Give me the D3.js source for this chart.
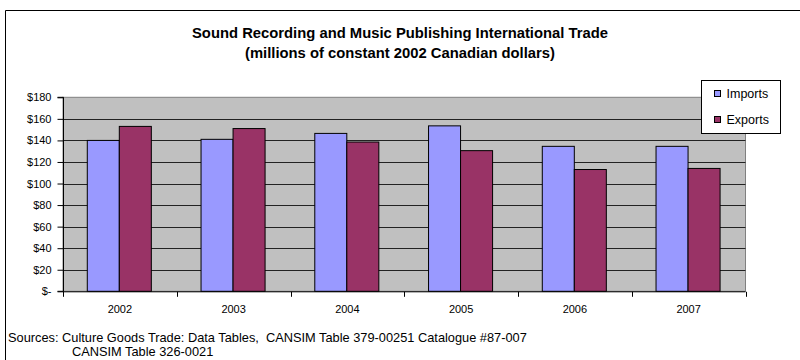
<!DOCTYPE html>
<html>
<head>
<meta charset="utf-8">
<script src="https://cdn.jsdelivr.net/npm/d3@7"></script>
<style>
  html, body { margin: 0; padding: 0; background: #fff; }
  svg { display: block; font-family: "Liberation Sans", Arial, sans-serif; }
  .pre { white-space: pre; }
</style>
</head>
<body>
<svg id="chart" width="800" height="360"></svg>
<script>
// Sound recording & music publishing trade, millions of constant 2002 CAD
const years = ["2002", "2003", "2004", "2005", "2006", "2007"];
const imports = [140, 141, 146.5, 153.5, 134.5, 134.5];
const exports = [153, 151, 138.5, 130.5, 113, 114];
const yTicks = [0, 20, 40, 60, 80, 100, 120, 140, 160, 180];
const seriesNames = ["Imports", "Exports"];
const seriesColors = ["#9999FF", "#993366"];

const svg = d3.select("#chart");

// outer chart frame
svg.append("path")
  .attr("d", "M5.5,365 V10.5 H805")
  .attr("fill", "none").attr("stroke", "#000").attr("stroke-width", 1);

// titles
svg.append("text").attr("x", 400).attr("y", 38).attr("text-anchor", "middle")
  .attr("font-size", 14.8).attr("font-weight", "bold")
  .text("Sound Recording and Music Publishing International Trade");
svg.append("text").attr("x", 400).attr("y", 58).attr("text-anchor", "middle")
  .attr("font-size", 14.8).attr("font-weight", "bold")
  .text("(millions of constant 2002 Canadian dollars)");

const plotL = 63, plotR = 745.5, plotT = 97.3, plotB = 291.3;

const x = d3.scaleBand().domain(years).range([plotL, plotR]).paddingInner(0).paddingOuter(0);
const y = d3.scaleLinear().domain([0, 180]).range([plotB, plotT]);

// plot area background
svg.append("rect").attr("x", plotL).attr("y", plotT)
  .attr("width", plotR - plotL).attr("height", plotB - plotT)
  .attr("fill", "#C0C0C0").attr("stroke", "#808080").attr("stroke-width", 1);

// horizontal gridlines
svg.append("g").selectAll("line").data(yTicks.filter(d => d > 0 && d < 180)).join("line")
  .attr("x1", plotL).attr("x2", plotR)
  .attr("y1", d => Math.round(y(d)) + 0.5).attr("y2", d => Math.round(y(d)) + 0.5)
  .attr("stroke", "#222").attr("stroke-width", 1);

// bars
const bw = x.bandwidth();
const barW = bw * 0.2815;
const offset = bw * 0.2135;
const groups = svg.append("g").selectAll("g").data(years).join("g")
  .attr("transform", d => `translate(${x(d)},0)`);
[imports, exports].forEach((vals, si) => {
  groups.append("rect")
    .attr("x", (d, i) => offset + si * barW)
    .attr("y", (d, i) => y(vals[i]))
    .attr("width", barW)
    .attr("height", (d, i) => plotB - y(vals[i]))
    .attr("fill", seriesColors[si])
    .attr("stroke", "#000").attr("stroke-width", 1);
});

// value axis
const yAxis = d3.axisLeft(y).tickValues(yTicks).tickSize(6).tickPadding(6)
  .tickFormat(d => d === 0 ? "$-" : "$" + d);
const gy = svg.append("g").attr("transform", `translate(${plotL + 0.5},0)`).call(yAxis);
gy.selectAll("text").attr("font-size", 11).attr("fill", "#000")
  .attr("font-family", "Liberation Sans, Arial, sans-serif");
gy.selectAll("line, path").attr("stroke", "#000");
gy.select(".domain").attr("d", `M-6,${plotT}H0V${plotB}H-6`);

// category axis
const gx = svg.append("g").attr("transform", `translate(0,${plotB + 0.5})`);
gx.append("line").attr("x1", plotL).attr("x2", plotR).attr("stroke", "#000");
gx.selectAll("line.tk").data(years.concat(["end"])).join("line").attr("class", "tk")
  .attr("x1", (d, i) => Math.round(plotL + i * bw) + 0.5)
  .attr("x2", (d, i) => Math.round(plotL + i * bw) + 0.5)
  .attr("y1", 0).attr("y2", 5).attr("stroke", "#000");
gx.selectAll("text").data(years).join("text")
  .attr("x", d => x(d) + bw / 2).attr("y", 21)
  .attr("text-anchor", "middle").attr("font-size", 11).text(d => d);

// legend
const lg = svg.append("g").attr("transform", "translate(701.5,80.5)");
lg.append("rect").attr("width", 79).attr("height", 53)
  .attr("fill", "#fff").attr("stroke", "#000").attr("stroke-width", 1);
seriesNames.forEach((name, i) => {
  lg.append("rect").attr("x", 13).attr("y", 10 + i * 26).attr("width", 6).attr("height", 6)
    .attr("fill", seriesColors[i]).attr("stroke", "#000").attr("stroke-width", 1);
  lg.append("text").attr("x", 25).attr("y", 17.5 + i * 26)
    .attr("font-size", 12.5).text(name);
});

// sources note
svg.append("text").attr("class", "pre").attr("x", 8).attr("y", 342).attr("font-size", 12.8)
  .text("Sources: Culture Goods Trade: Data Tables,  CANSIM Table 379-00251 Catalogue #87-007");
svg.append("text").attr("x", 72).attr("y", 356).attr("font-size", 12.8)
  .text("CANSIM Table 326-0021");
</script>
</body>
</html>
